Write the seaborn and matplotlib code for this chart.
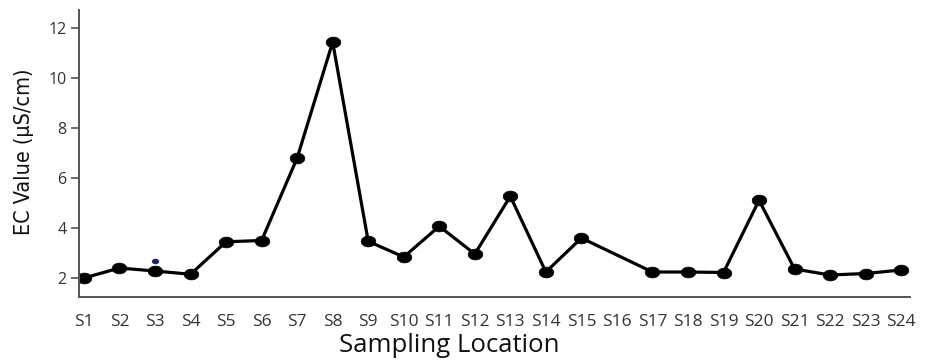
import numpy as np
import pandas as pd
import matplotlib
matplotlib.use("Agg")
import matplotlib.pyplot as plt
from matplotlib.path import Path
import seaborn as sns

# Sampling sites and measured electrical conductivity (S16 not measured)
locations = [f"S{i}" for i in range(1, 25)]
ec_values = [2.00, 2.40, 2.28, 2.15, 3.45, 3.50, 6.80, 11.44, 3.47, 2.84,
             4.07, 2.96, 5.27, 2.24, 3.60, np.nan, 2.24, 2.24, 2.22, 5.11,
             2.36, 2.12, 2.18, 2.32]
yticks = [2, 4, 6, 8, 10, 12]

# Separate reading marked at S3
extra_loc = ["S3"]
extra_val = [2.68]

sns.set_theme(style="white")
plt.rcParams["font.family"] = ["Open Sans", "DejaVu Sans"]

df = pd.DataFrame({"pos": np.arange(len(locations)), "ec": ec_values}).dropna()

# Wide ellipse marker
t = np.linspace(0, 2 * np.pi, 60)
verts = np.column_stack([1.35 * np.cos(t), np.sin(t)])
ellipse = Path(verts, closed=True)

fig = plt.figure(figsize=(9.38, 3.6), dpi=100)
ax = fig.add_axes([0.0842, 0.175, 0.886, 0.797])

sns.lineplot(data=df, x="pos", y="ec", ax=ax, color="black", linewidth=2.3,
             marker=ellipse, markersize=10.5, markerfacecolor="black",
             markeredgecolor="black", markeredgewidth=0.5)

ex_pos = [locations.index(l) for l in extra_loc]
ax.scatter(ex_pos, extra_val, s=28, marker=ellipse, color="#1c2a55",
           zorder=4, linewidths=0)

ax.set_xlim(-0.14, 23.25)
ax.set_ylim(1.24, 12.72)
ax.set_xticks(np.arange(len(locations)))
ax.set_xticklabels(locations, fontsize=12.5, color="#333333")
ax.set_yticks(yticks)
ax.set_yticklabels([str(v) for v in yticks], fontsize=11.5, color="#333333")

ax.tick_params(axis="x", length=0, pad=12)
ax.tick_params(axis="y", length=6, width=1.2, color="#555555", pad=3,
               direction="out", left=True)

for side in ["top", "right"]:
    ax.spines[side].set_visible(False)
for side in ["left", "bottom"]:
    ax.spines[side].set_color("#555555")
    ax.spines[side].set_linewidth(1.4)

ax.set_xlabel("Sampling Location", fontsize=18.5, color="#111111")
ax.xaxis.set_label_coords(0.445, -0.19)
ax.xaxis.label.set_verticalalignment("baseline")
ax.set_ylabel("EC Value (μS/cm)", fontsize=15.5, color="#111111",
              family=["DejaVu Sans"], fontstretch="condensed")
ax.yaxis.set_label_coords(-0.066, 0.505)
ax.yaxis.label.set_verticalalignment("center")

fig.savefig("out.png", dpi=100)
